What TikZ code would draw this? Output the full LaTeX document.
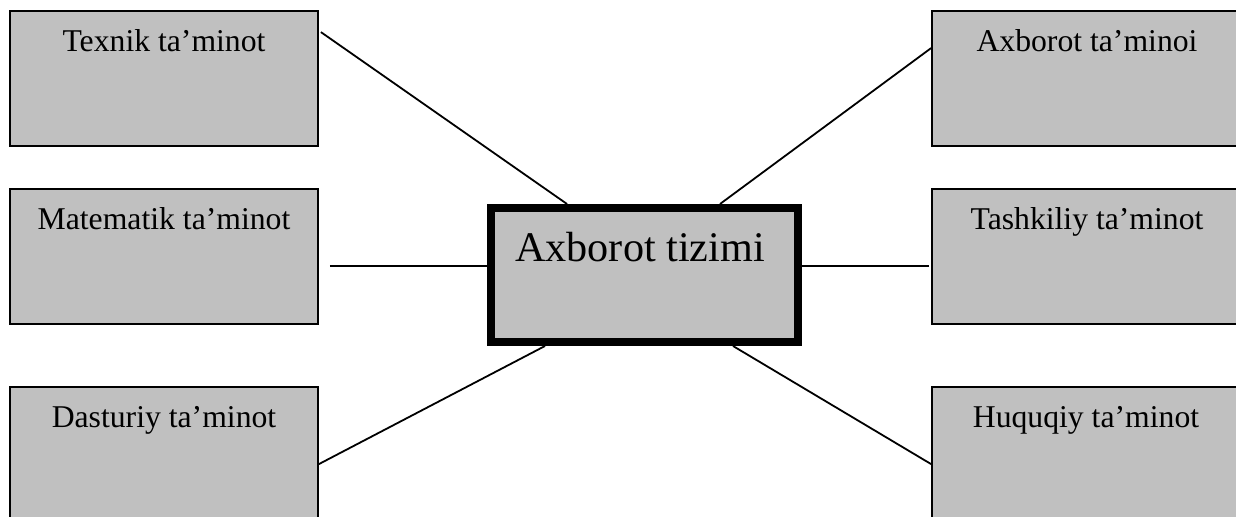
\documentclass[tikz,border=0pt]{standalone}
\usepackage{fontspec}
\setmainfont{Liberation Serif}
\usetikzlibrary{calc}
\definecolor{boxgray}{RGB}{192,192,192}
\begin{document}
\begin{tikzpicture}[x=0.5pt,y=-0.5pt,
  sidebox/.style={draw=black,fill=boxgray,line width=0.9pt,minimum width=154pt,minimum height=67.5pt,inner sep=0pt},
  mainbox/.style={draw=black,fill=boxgray,line width=4pt,minimum width=153.5pt,minimum height=67pt,inner sep=0pt},
  sidelbl/.style={anchor=base,inner sep=0pt,font=\fontsize{15.85}{18}\selectfont},
  mainlbl/.style={anchor=base,inner sep=0pt,font=\fontsize{21.1}{24}\selectfont},
  conn/.style={draw=black,line width=0.9pt}]
\useasboundingbox (0,0) rectangle (1236,517);
\clip (0,0) rectangle (1236,517);
% side boxes
\node[sidebox] (tex) at (164,78.5) {};
\node[sidebox] (mat) at (164,256.5) {};
\node[sidebox] (das) at (164,454.5) {};
\node[sidebox] (axb) at (1086,78.5) {};
\node[sidebox] (tas) at (1086,256.5) {};
\node[sidebox] (huq) at (1086,454.5) {};
% centre box
\node[mainbox] (ctr) at (644.5,275) {};
% labels
\node[sidelbl] (texl) at ($(tex.north)+(0,41)$) {Texnik ta’minot};
\node[sidelbl] (matl) at ($(mat.north)+(0,41)$) {Matematik ta’minot};
\node[sidelbl] (dasl) at ($(das.north)+(0,41)$) {Dasturiy ta’minot};
\node[sidelbl] (axbl) at ($(axb.north)+(1,41)$) {Axborot ta’minoi};
\node[sidelbl] (tasl) at ($(tas.north)+(1,41)$) {Tashkiliy ta’minot};
\node[sidelbl] (huql) at ($(huq.north)+(0,41)$) {Huquqiy ta’minot};
\node[mainlbl] (ctrl) at ($(ctr.center)+(-4.5,-13)$) {Axborot tizimi};
% connector end points
\coordinate (c1) at ($(tex.north east)+(2,22)$);
\coordinate (c1e) at ($(ctr.north west)+(80,0)$);
\coordinate (c2) at ($(axb.north west)+(0,38)$);
\coordinate (c2e) at ($(ctr.north west)+(233,0)$);
\coordinate (c3) at ($(mat.east)+(11,9.5)$);
\coordinate (c3e) at ($(ctr.west)+(0,-9)$);
\coordinate (c4) at ($(tas.west)+(-2,9.5)$);
\coordinate (c4e) at ($(ctr.east)+(0,-9)$);
\coordinate (c5) at ($(das.north east)+(0,78)$);
\coordinate (c5e) at ($(ctr.south west)+(58,0)$);
\coordinate (c6) at ($(huq.north west)+(0,78)$);
\coordinate (c6e) at ($(ctr.south west)+(246,0)$);
\draw[conn] (c1) -- (c1e);
\draw[conn] (c2) -- (c2e);
\draw[conn] (c3) -- (c3e);
\draw[conn] (c4) -- (c4e);
\draw[conn] (c5) -- (c5e);
\draw[conn] (c6) -- (c6e);
\end{tikzpicture}
\end{document}
